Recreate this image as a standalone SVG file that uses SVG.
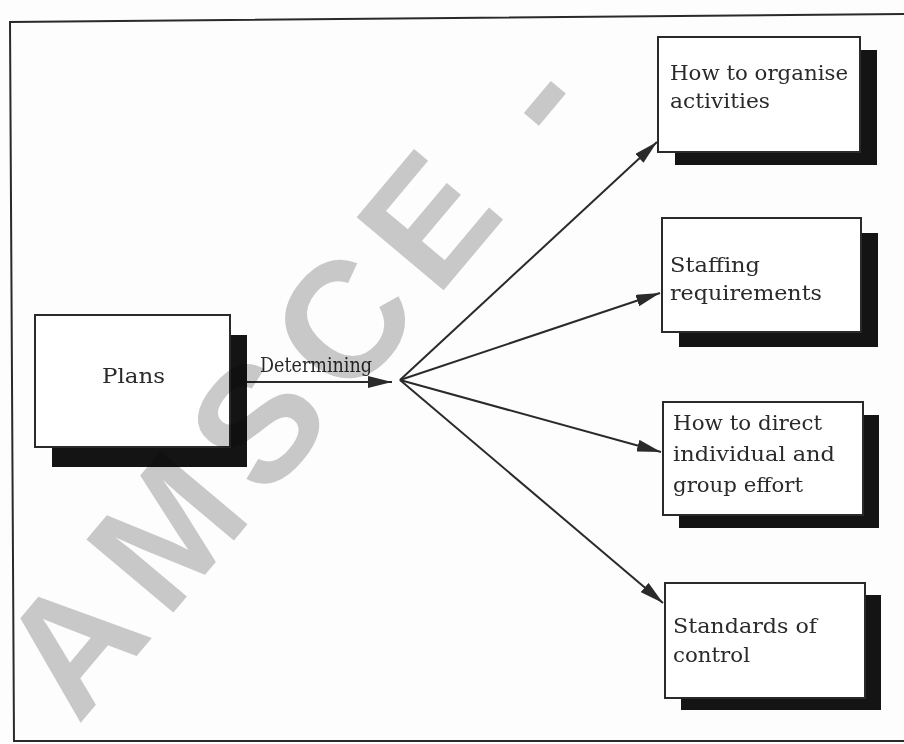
<svg xmlns="http://www.w3.org/2000/svg" width="904" height="744" viewBox="0 0 904 744">
<style>
.bg{fill:#fdfdfd}
.frame{fill:none;stroke:#2a2a2a;stroke-width:2}
.box{fill:#ffffff;stroke:#2a2a2a;stroke-width:2}
.shadow{fill:#141414}
.lbl{font-family:"DejaVu Serif","Liberation Serif",serif;font-size:21px;fill:#2a2a2a}
.conn{stroke:#2a2a2a;stroke-width:2;fill:none}
.wm{font-family:"Liberation Sans",Arial,sans-serif;font-size:165px;font-weight:bold;letter-spacing:18px;fill:#cacaca;mix-blend-mode:multiply}
</style>
<defs>
<marker id="ah" markerUnits="userSpaceOnUse" viewBox="0 0 24 12" markerWidth="24" markerHeight="12" refX="24" refY="6" orient="auto">
<path d="M0,0 L24,6 L0,12 z" fill="#2a2a2a"/>
</marker>
</defs>
<rect class="bg" x="0" y="0" width="904" height="744"/>
<path class="frame" d="M904,14 L10,22 L14,741 L904,741"/>

<g id="plans">
<rect class="shadow" x="52" y="335" width="195" height="132"/>
<rect class="box" x="35" y="315" width="195" height="132"/>
<text class="lbl" x="102" y="383" textLength="63" lengthAdjust="spacingAndGlyphs">Plans</text>
</g>

<g id="organise">
<rect class="shadow" x="675" y="50" width="202" height="115"/>
<rect class="box" x="658" y="37" width="202" height="115"/>
<text class="lbl" x="670" y="80" textLength="178" lengthAdjust="spacingAndGlyphs">How to organise</text>
<text class="lbl" x="670" y="108" textLength="100" lengthAdjust="spacingAndGlyphs">activities</text>
</g>

<g id="staffing">
<rect class="shadow" x="679" y="233" width="199" height="114"/>
<rect class="box" x="662" y="218" width="199" height="114"/>
<text class="lbl" x="670" y="272" textLength="90" lengthAdjust="spacingAndGlyphs">Staffing</text>
<text class="lbl" x="670" y="300" textLength="152" lengthAdjust="spacingAndGlyphs">requirements</text>
</g>

<g id="direct">
<rect class="shadow" x="679" y="415" width="200" height="113"/>
<rect class="box" x="663" y="402" width="200" height="113"/>
<text class="lbl" x="673" y="430" textLength="149" lengthAdjust="spacingAndGlyphs">How to direct</text>
<text class="lbl" x="673" y="461" textLength="162" lengthAdjust="spacingAndGlyphs">individual and</text>
<text class="lbl" x="673" y="492" textLength="130" lengthAdjust="spacingAndGlyphs">group effort</text>
</g>

<g id="control">
<rect class="shadow" x="681" y="595" width="200" height="115"/>
<rect class="box" x="665" y="583" width="200" height="115"/>
<text class="lbl" x="673" y="633" textLength="144" lengthAdjust="spacingAndGlyphs">Standards of</text>
<text class="lbl" x="673" y="662" textLength="77" lengthAdjust="spacingAndGlyphs">control</text>
</g>

<g id="connectors">
<line class="conn" x1="247" y1="382" x2="392" y2="382" marker-end="url(#ah)"/>
<text class="lbl" x="260" y="372" textLength="112" lengthAdjust="spacingAndGlyphs">Determining</text>
<line class="conn" x1="400" y1="380" x2="657" y2="142" marker-end="url(#ah)"/>
<line class="conn" x1="400" y1="380" x2="660" y2="293" marker-end="url(#ah)"/>
<line class="conn" x1="400" y1="380" x2="661" y2="452" marker-end="url(#ah)"/>
<line class="conn" x1="400" y1="380" x2="663" y2="603" marker-end="url(#ah)"/>
</g>

<text class="wm" transform="translate(78,726) rotate(-50)">AMSCE - </text>
</svg>
